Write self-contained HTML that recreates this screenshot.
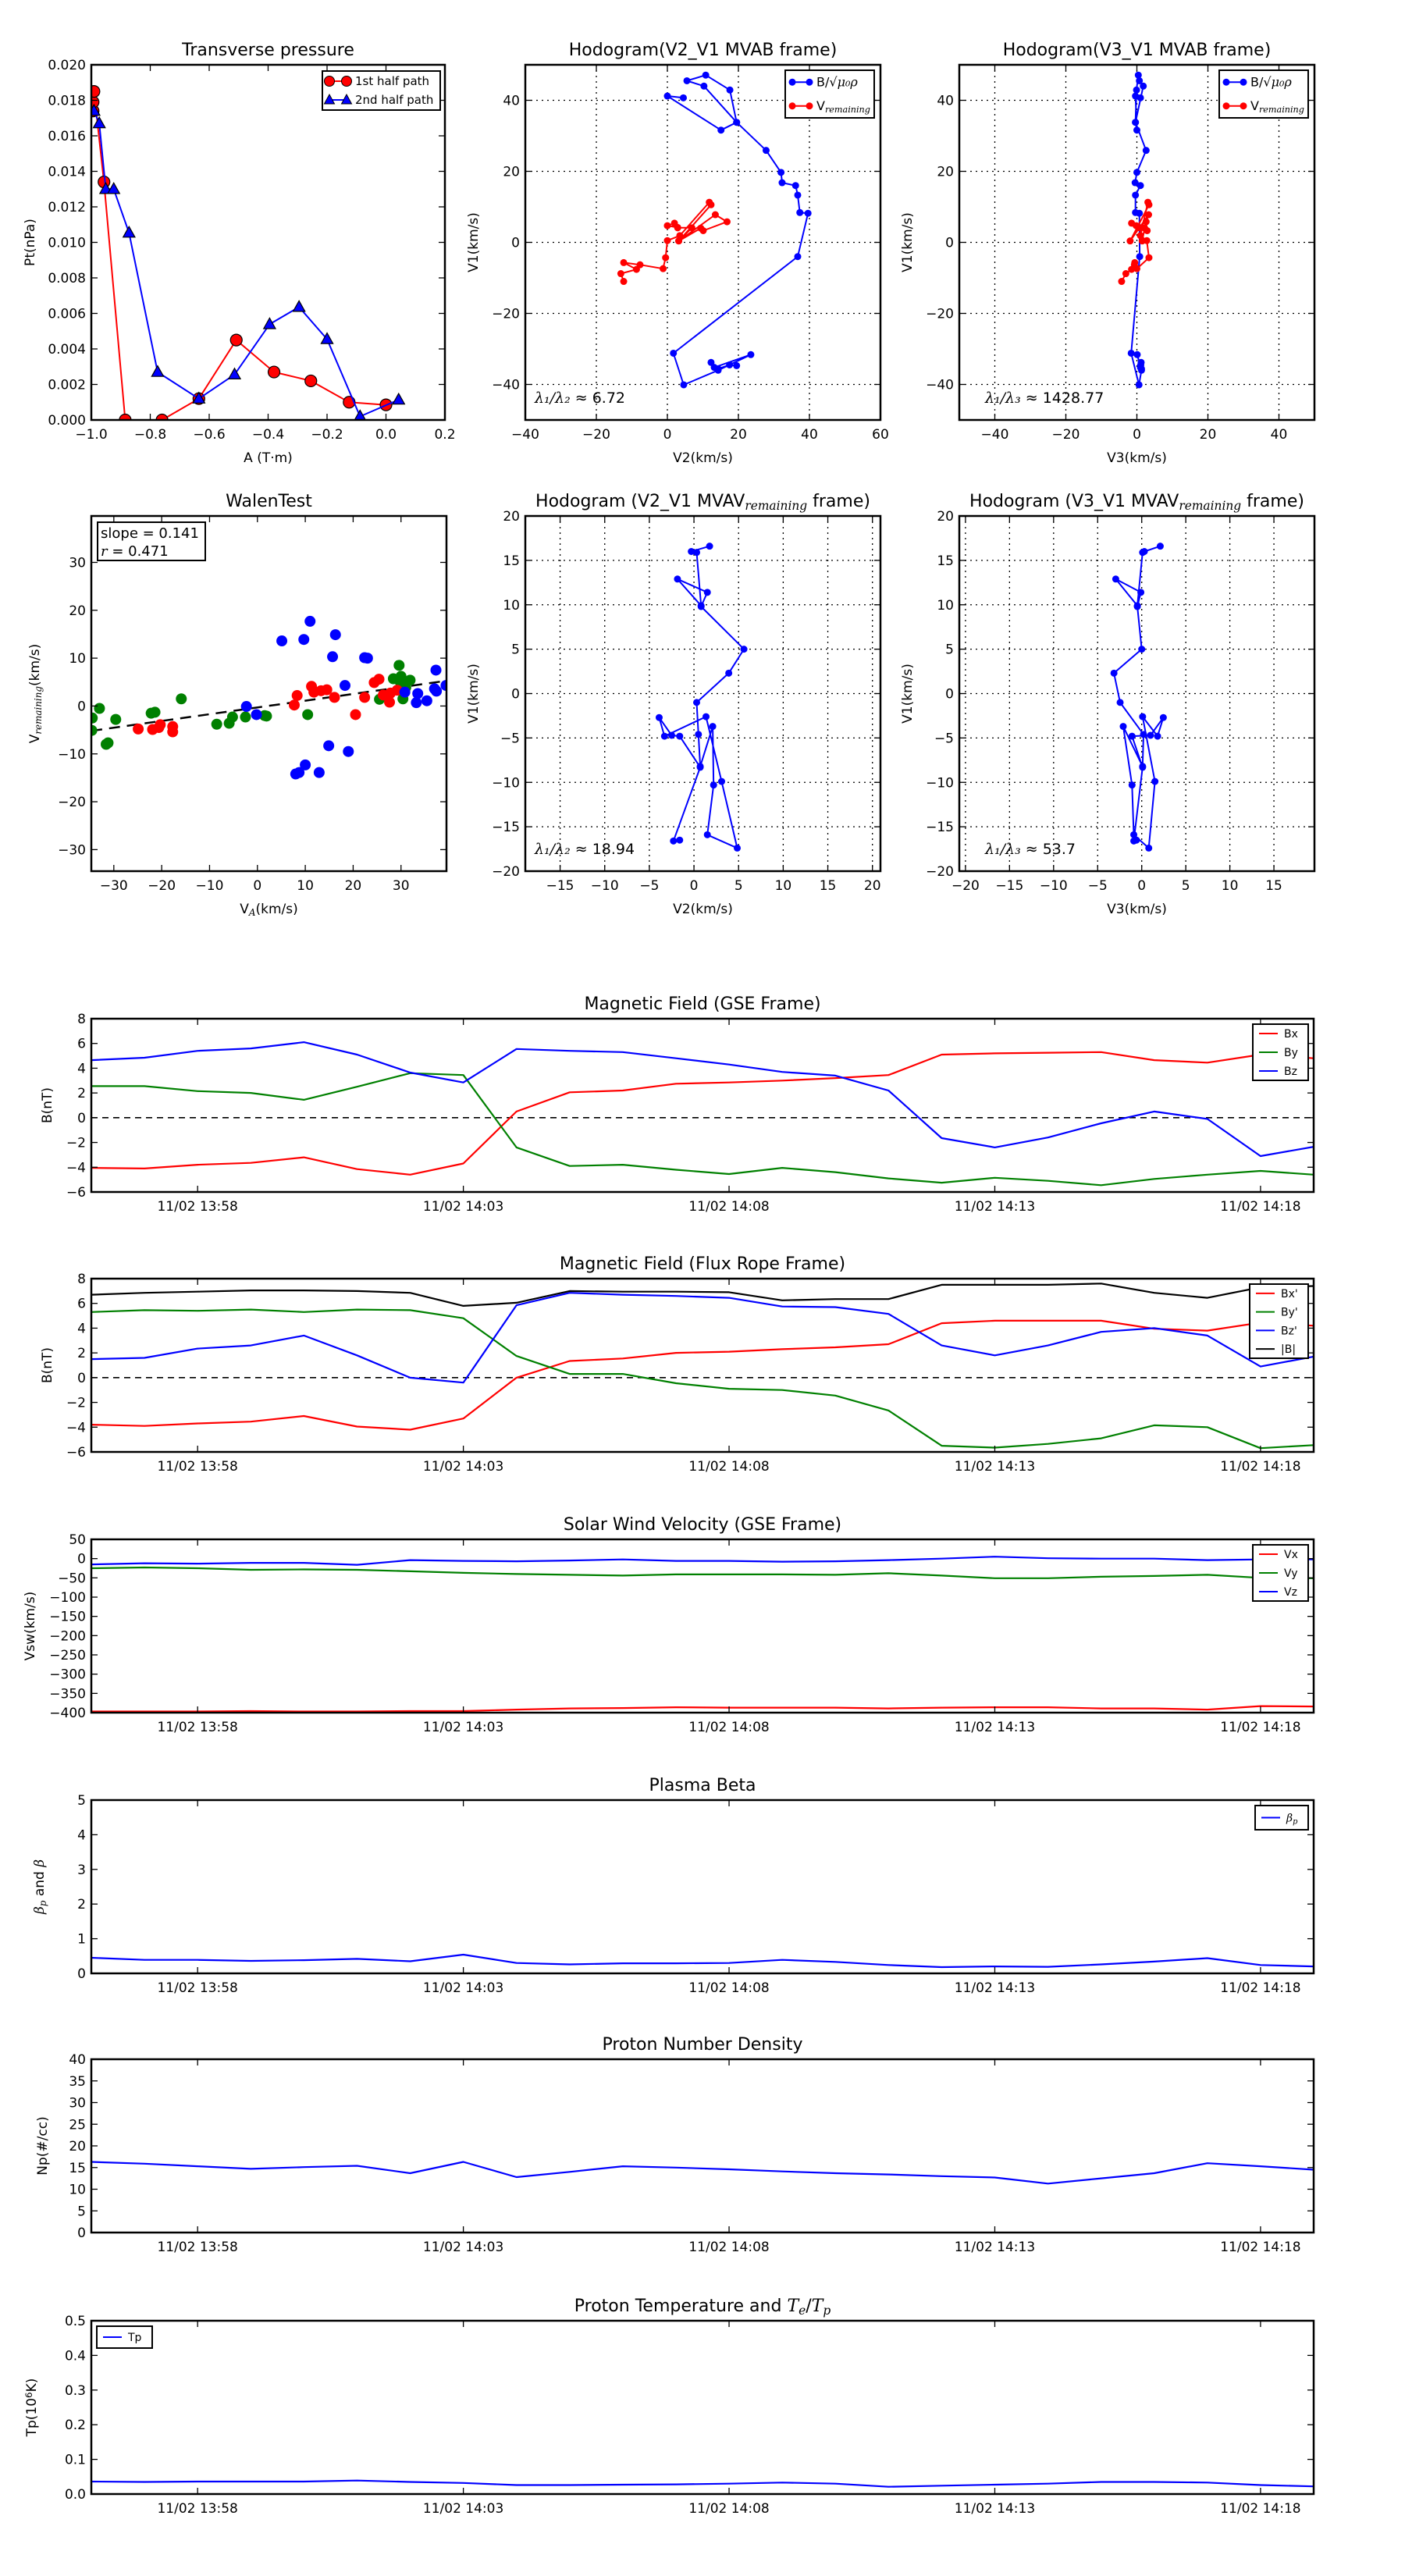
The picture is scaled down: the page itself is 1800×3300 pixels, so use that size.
<!DOCTYPE html>
<html><head><meta charset="utf-8"><title>Flux rope analysis</title>
<style>
html,body{margin:0;padding:0;background:#fff;}
svg{display:block;font-family:"DejaVu Sans","Liberation Sans",sans-serif;}
</style></head>
<body>
<svg id="fig" xmlns="http://www.w3.org/2000/svg" width="1800" height="3300" viewBox="0 0 1800 3300"></svg>
<script>
// ---------- DATA ----------
const tpRedA=[-0.994,-0.994,-0.991,-0.957,-0.885,-0.760,-0.635,-0.508,-0.380,-0.255,-0.125,0.000];
const tpRedP=[0.0174,0.0179,0.0185,0.0134,0.0000,0.0000,0.0012,0.0045,0.0027,0.0022,0.0010,0.00085];
const tpBlueA=[-0.991,-0.973,-0.951,-0.924,-0.872,-0.775,-0.635,-0.514,-0.395,-0.295,-0.200,-0.088,0.043];
const tpBlueP=[0.0174,0.0167,0.0130,0.0130,0.01054,0.0027,0.0012,0.00256,0.00539,0.00636,0.00455,0.0002,0.00114];
const hbV1=[40.7,41.2,31.6,33.8,42.9,47.1,45.5,44.0,33.8,25.9,19.7,16.8,16.0,13.3,8.4,8.2,-4.0,-31.2,-40.1,-36.0,-31.6,-35.2,-33.8,-35.6,-34.5,-34.7];
const hbV2=[4.5,0.0,15.1,19.5,17.6,10.8,5.5,10.3,19.5,27.8,32.0,32.3,36.1,36.7,37.3,39.6,36.7,1.7,4.6,14.3,23.5,13.2,12.3,14.3,17.5,19.5];
const hbV3=[1.0,-0.4,0.0,-0.4,-0.1,0.4,0.7,1.8,-0.4,2.6,0.0,-0.5,1.0,-0.4,-0.4,0.7,0.8,-1.6,0.6,1.3,0.1,1.0,1.2,1.3,1.1,1.0];
const hrV1=[-11.0,-8.8,-7.6,-5.7,-6.3,-7.4,-4.3,0.5,1.9,11.3,10.6,0.4,7.8,5.8,3.3,4.0,0.4,4.1,4.1,5.4,4.7,4.2];
const hrV2=[-12.3,-13.1,-8.7,-12.3,-7.7,-1.2,-0.5,0.0,3.5,11.8,12.3,3.2,13.5,16.8,10.1,9.4,3.2,6.9,2.9,2.0,0.0,2.9];
const hrV3=[-4.3,-3.1,-1.5,-0.6,-0.7,0.0,3.4,2.8,1.0,3.1,3.4,-1.9,3.3,2.6,2.9,2.2,1.5,1.0,0.8,-1.5,-0.2,0.6];
const hvV1=[16.6,16.0,15.9,9.9,12.9,11.4,9.8,5.0,2.3,-1.0,-4.6,-8.2,-3.7,-10.3,-15.9,-17.4,-9.9,-2.6,-4.8,-2.7,-4.7,-4.8,-8.3,-16.6,-16.5];
const hvV2=[1.75,-0.3,0.3,0.8,-1.85,1.5,0.8,5.6,3.9,0.3,0.5,0.7,2.1,2.2,1.5,4.85,3.1,1.35,-3.3,-3.9,-2.5,-1.6,0.7,-2.3,-1.6];
const hvV3=[2.1,0.3,0.1,-0.5,-2.95,-0.1,-0.5,0.0,-3.15,-2.45,0.2,0.1,-2.1,-1.1,-0.9,0.8,1.5,0.1,1.8,2.45,1.0,-1.1,0.1,-0.9,-0.6];
const wGreenX=[-34.5,-34.6,-33,-31.6,-31.2,-29.6,-22.2,-21.4,-15.9,-8.5,-5.9,-5.2,-2.5,1.5,1.9,10.5,25.5,28.4,29.6,30,29.8,30.4,31,31.9];
const wGreenY=[-2.5,-5.1,-0.5,-8.0,-7.7,-2.8,-1.5,-1.3,1.5,-3.8,-3.6,-2.3,-2.3,-2.0,-2.1,-1.8,1.4,5.7,8.5,6.2,5.1,1.5,3.9,5.4];
const wRedX=[-24.9,-21.9,-20.6,-20.3,-17.7,-17.7,7.7,8.3,11.3,11.8,13.3,14.5,16.1,20.5,22.4,24.4,25.4,26.3,27.6,27.8,29.2];
const wRedY=[-4.8,-4.9,-4.5,-3.9,-4.3,-5.4,0.2,2.2,4.1,2.9,3.2,3.4,1.8,-1.8,1.8,4.9,5.6,2.3,0.8,2.7,3.3];
const wBlueX=[-2.3,-0.2,5.1,9.7,11,16.3,15.7,18.3,22.4,23.0,30.8,33.5,33.2,35.4,37.3,37,37.4,39.4,14.9,19,10,8,8.7,12.9];
const wBlueY=[-0.1,-1.8,13.6,13.9,17.7,14.9,10.3,4.3,10.1,10.0,2.9,2.6,0.7,1.1,7.5,3.6,3.1,4.3,-8.3,-9.5,-12.3,-14.2,-13.9,-13.9];
const wSlope=0.141;
const wIntercept=-0.3;
const tMinutes=[0,1,2,3,4,5,6,7,8,9,10,11,12,13,14,15,16,17,18,19,20,21,22,23];
const timeTicks=[2,7,12,17,22];
const timeTickLabels=["11/02 13:58","11/02 14:03","11/02 14:08","11/02 14:13","11/02 14:18"];
const gBx=[-4.05,-4.1,-3.8,-3.65,-3.2,-4.15,-4.6,-3.7,0.5,2.05,2.2,2.75,2.85,3.0,3.2,3.45,5.1,5.2,5.25,5.3,4.65,4.45,5.1,4.8];
const gBy=[2.55,2.55,2.15,2.0,1.45,2.5,3.6,3.45,-2.4,-3.9,-3.8,-4.2,-4.55,-4.05,-4.4,-4.9,-5.25,-4.85,-5.1,-5.45,-4.95,-4.6,-4.3,-4.6];
const gBz=[4.65,4.85,5.4,5.6,6.1,5.1,3.65,2.85,5.55,5.4,5.3,4.8,4.3,3.7,3.4,2.2,-1.65,-2.4,-1.6,-0.45,0.5,-0.1,-3.1,-2.35];
const fBx=[-3.8,-3.9,-3.7,-3.55,-3.1,-3.95,-4.2,-3.3,0.0,1.35,1.55,2.0,2.1,2.3,2.45,2.7,4.4,4.6,4.6,4.6,3.95,3.8,4.45,4.2];
const fBy=[5.3,5.45,5.4,5.5,5.3,5.5,5.45,4.8,1.75,0.3,0.3,-0.45,-0.9,-1.0,-1.45,-2.65,-5.5,-5.65,-5.35,-4.9,-3.85,-4.0,-5.7,-5.45];
const fBz=[1.5,1.6,2.35,2.6,3.4,1.8,0.0,-0.4,5.85,6.85,6.7,6.6,6.45,5.75,5.7,5.15,2.6,1.8,2.6,3.7,4.0,3.4,0.9,1.7];
const fBt=[6.7,6.85,6.95,7.05,7.05,7.0,6.85,5.8,6.05,7.0,6.95,6.95,6.9,6.25,6.35,6.35,7.5,7.5,7.5,7.6,6.85,6.45,7.3,7.4];
const vx=[-397,-397,-397,-396,-397,-397,-396,-396,-392,-389,-388,-386,-387,-387,-387,-389,-387,-386,-386,-389,-389,-392,-383,-384];
const vy=[-25,-23,-25,-29,-28,-29,-33,-37,-40,-42,-44,-41,-41,-41,-42,-38,-44,-51,-51,-47,-45,-42,-50,-51];
const vz=[-15,-12,-13,-11,-11,-16,-4,-6,-7,-5,-2,-6,-6,-8,-7,-4,0,5,1,0,0,-4,-2,-2];
const betaP=[0.45,0.39,0.39,0.36,0.38,0.42,0.35,0.54,0.30,0.26,0.29,0.29,0.30,0.39,0.33,0.24,0.18,0.20,0.19,0.26,0.34,0.44,0.24,0.20];
const npDens=[16.3,15.9,15.3,14.7,15.1,15.4,13.7,16.3,12.8,14.0,15.3,15.0,14.6,14.1,13.7,13.4,13.0,12.7,11.3,12.5,13.7,16.0,15.3,14.5];
const tpTemp=[0.036,0.035,0.036,0.036,0.036,0.039,0.035,0.032,0.026,0.026,0.027,0.028,0.030,0.033,0.030,0.021,0.024,0.027,0.030,0.035,0.035,0.033,0.026,0.022];

// ---------- DRAWING ----------
const NS='http://www.w3.org/2000/svg';
const svg=document.getElementById('fig');
let clipId=0;
function mk(tag,attrs,parent){const e=document.createElementNS(NS,tag);for(const k in attrs)e.setAttribute(k,attrs[k]);(parent||svg).appendChild(e);return e;}
function fmt(v,d){const s=Math.abs(v).toFixed(d);return (v<-1e-12?'\u2212':'')+s;}
function rich(parent,parts){
  parts.forEach(p=>{const t=mk('tspan',{},parent);t.textContent=p[0];
    if(p[1]==='sub'){t.setAttribute('font-size','0.7em');t.setAttribute('font-style','italic');t.setAttribute('font-family','"DejaVu Serif","Liberation Serif",serif');t.setAttribute('baseline-shift','-25%');}
    if(p[1]==='it'){t.setAttribute('font-style','italic');t.setAttribute('font-family','"DejaVu Serif","Liberation Serif",serif');}
    if(p[1]==='sup'){t.setAttribute('font-size','0.7em');t.setAttribute('baseline-shift','40%');}
  });
}
function makeAxes(name,x0,y0,w,h,xr,yr,o){
  const g=mk('g',{});
  
  
  const sx=v=>x0+(v-xr[0])/(xr[1]-xr[0])*w;
  const sy=v=>y0+h-(v-yr[0])/(yr[1]-yr[0])*h;
  const cid='c'+(clipId++);
  const cp=mk('clipPath',{id:cid},g);mk('rect',{x:x0,y:y0,width:w,height:h},cp);
  const data=mk('g',{'clip-path':'url(#'+cid+')'},g);
  
  
  if(o.grid){
    o.xticks.forEach(t=>{const l=mk('line',{x1:sx(t),x2:sx(t),y1:y0,y2:y0+h,stroke:'#000','stroke-width':1.3,'stroke-dasharray':'2,5'},data);
      });
    o.yticks.forEach(t=>{const l=mk('line',{x1:x0,x2:x0+w,y1:sy(t),y2:sy(t),stroke:'#000','stroke-width':1.3,'stroke-dasharray':'2,5'},data);
      });
  }
  const tk=mk('g',{stroke:'#000','stroke-width':1.3},g);
  
  o.xticks.forEach(t=>{mk('line',{x1:sx(t),x2:sx(t),y1:y0+h,y2:y0+h-8},tk);mk('line',{x1:sx(t),x2:sx(t),y1:y0,y2:y0+8},tk);});
  o.yticks.forEach(t=>{mk('line',{x1:x0,x2:x0+8,y1:sy(t),y2:sy(t)},tk);mk('line',{x1:x0+w,x2:x0+w-8,y1:sy(t),y2:sy(t)},tk);});
  o.xticks.forEach((t,i)=>{const s=mk('text',{x:sx(t),y:y0+h+24,'font-size':o.fs||17,'text-anchor':'middle'},g);
    
    
    s.textContent=o.xlab?o.xlab[i]:fmt(t,o.xd||0);});
  o.yticks.forEach(t=>{const s=mk('text',{x:x0-7,y:sy(t)+6,'font-size':o.fs||17,'text-anchor':'end'},g);
    
    
    s.textContent=fmt(t,o.yd||0);});
  if(o.title){const s=mk('text',{x:x0+w/2,y:y0-12,'font-size':22,'text-anchor':'middle'},g);
    
    
    rich(s,o.title);}
  if(o.xlabel){const s=mk('text',{x:x0+w/2,y:y0+h+54,'font-size':17,'text-anchor':'middle'},g);
    
    
    rich(s,o.xlabel);}
  if(o.ylabel){const s=mk('text',{x:0,y:0,'font-size':17,'text-anchor':'middle',transform:'translate('+o.ylx+','+(y0+h/2)+') rotate(-90)'},g);
    
    
    rich(s,o.ylabel);}
  return {g,data,sx,sy,frame:()=>{const f=mk('rect',{x:x0,y:y0,width:w,height:h,fill:'none',stroke:'#000','stroke-width':2.5},g);
    }};
}
function line(ax,xs,ys,color,name,lw){
  const pts=xs.map((x,i)=>ax.sx(x).toFixed(1)+','+ax.sy(ys[i]).toFixed(1)).join(' ');
  const p=mk('polyline',{points:pts,fill:'none',stroke:color,'stroke-width':lw||2,'stroke-linejoin':'round'},ax.data);
  
  
}
function dots(ax,xs,ys,color,name,r,edge){
  xs.forEach((x,i)=>{const c=mk('circle',{cx:ax.sx(x),cy:ax.sy(ys[i]),r:r,fill:color},ax.data);
    if(edge){c.setAttribute('stroke','#000');c.setAttribute('stroke-width',1.2);}
    
    });
}
function tris(ax,xs,ys,color,name,s){
  xs.forEach((x,i)=>{const cx=ax.sx(x),cy=ax.sy(ys[i]);
    const p=mk('polygon',{points:cx+','+(cy-s)+' '+(cx-s*0.95)+','+(cy+s*0.7)+' '+(cx+s*0.95)+','+(cy+s*0.7),fill:color,stroke:'#000','stroke-width':1.2},ax.data);
    
    });
}
// entries: [parts, color]
function legend(name,x,y,w,h,entries,marker,fs){
  const g=mk('g',{});
  
  
  mk('rect',{x:x,y:y,width:w,height:h,fill:'#fff',stroke:'#000','stroke-width':2},g);
  const step=h/entries.length;
  entries.forEach((e,i)=>{const cy=y+step*(i+0.5);
    const eg=mk('g',{},g);
    
    
    mk('line',{x1:x+8,x2:x+32,y1:cy,y2:cy,stroke:e[1],'stroke-width':2},eg);
    if(marker==='circle'){mk('circle',{cx:x+9,cy:cy,r:4.5,fill:e[1]},eg);mk('circle',{cx:x+31,cy:cy,r:4.5,fill:e[1]},eg);}
    const t=mk('text',{x:x+40,y:cy+5,'font-size':fs||15},eg);rich(t,e[0]);});
}

// ---- Transverse pressure ----
(function(){
  const ax=makeAxes('transverse-pressure-chart',117,83,453,455,[-1.0,0.2],[0,0.020],{
    xticks:[-1.0,-0.8,-0.6,-0.4,-0.2,0.0,0.2],yticks:[0,0.002,0.004,0.006,0.008,0.010,0.012,0.014,0.016,0.018,0.020],
    xd:1,yd:3,title:[['Transverse pressure']],xlabel:[['A (T\u00b7m)']],ylabel:[['Pt(nPa)']],ylx:44});
  line(ax,tpRedA,tpRedP,'#ff0000','first-half-path-line');
  dots(ax,tpRedA,tpRedP,'#ff0000','first-half-point',7.5,true);
  line(ax,tpBlueA,tpBlueP,'#0000ff','second-half-path-line');
  tris(ax,tpBlueA,tpBlueP,'#0000ff','second-half-point',8);
  ax.frame();
  const lg=mk('g',{});
  
  
  mk('rect',{x:413,y:91,width:151,height:50,fill:'#fff',stroke:'#000','stroke-width':2},lg);
  const e1=mk('g',{},lg);
  
  
  mk('line',{x1:421,x2:445,y1:104,y2:104,stroke:'#ff0000','stroke-width':2},e1);
  mk('circle',{cx:422,cy:104,r:6.5,fill:'#ff0000',stroke:'#000'},e1);mk('circle',{cx:444,cy:104,r:6.5,fill:'#ff0000',stroke:'#000'},e1);
  const t1=mk('text',{x:455,y:109,'font-size':15},e1);t1.textContent='1st half path';
  const e2=mk('g',{},lg);
  
  
  mk('line',{x1:421,x2:445,y1:128,y2:128,stroke:'#0000ff','stroke-width':2},e2);
  [422,444].forEach(px=>mk('polygon',{points:px+',121 '+(px-6.5)+',133 '+(px+6.5)+',133',fill:'#0000ff',stroke:'#000'},e2));
  const t2=mk('text',{x:455,y:133,'font-size':15},e2);t2.textContent='2nd half path';
})();

const legB=[[['B/\u221a'],['\u03bc\u2080\u03c1','it']],'#0000ff'];
const legV=[[['V'],['remaining','sub']],'#ff0000'];
(function(){
  const ax=makeAxes('hodogram-v2-v1-mvab',673,83,455,455,[-40,60],[-50,50],{
    xticks:[-40,-20,0,20,40,60],yticks:[-40,-20,0,20,40],grid:true,
    title:[['Hodogram(V2_V1 MVAB frame)']],xlabel:[['V2(km/s)']],ylabel:[['V1(km/s)']],ylx:612});
  line(ax,hbV2,hbV1,'#0000ff','b-alfven-path');
  dots(ax,hbV2,hbV1,'#0000ff','b-alfven-point',4.5);
  line(ax,hrV2,hrV1,'#ff0000','v-remaining-path');
  dots(ax,hrV2,hrV1,'#ff0000','v-remaining-point',4.5);
  const t=mk('text',{x:685,y:516,'font-size':19},ax.g);
  
  
  rich(t,[['\u03bb\u2081/\u03bb\u2082','it'],[' \u2248 6.72']]);
  ax.frame();
  legend('hodogram-v2-legend',1006,90,114,61,[legB,legV],'circle',16);
})();
(function(){
  const ax=makeAxes('hodogram-v3-v1-mvab',1229,83,455,455,[-50,50],[-50,50],{
    xticks:[-40,-20,0,20,40],yticks:[-40,-20,0,20,40],grid:true,
    title:[['Hodogram(V3_V1 MVAB frame)']],xlabel:[['V3(km/s)']],ylabel:[['V1(km/s)']],ylx:1168});
  line(ax,hbV3,hbV1,'#0000ff','b-alfven-path');
  dots(ax,hbV3,hbV1,'#0000ff','b-alfven-point',4.5);
  line(ax,hrV3,hrV1,'#ff0000','v-remaining-path');
  dots(ax,hrV3,hrV1,'#ff0000','v-remaining-point',4.5);
  const t=mk('text',{x:1262,y:516,'font-size':19},ax.g);
  
  
  rich(t,[['\u03bb\u2081/\u03bb\u2083','it'],[' \u2248 1428.77']]);
  ax.frame();
  legend('hodogram-v3-legend',1562,90,114,61,[legB,legV],'circle',16);
})();
(function(){
  const ax=makeAxes('walen-test-chart',117,661,455,455,[-34.7,39.5],[-34.5,39.7],{
    xticks:[-30,-20,-10,0,10,20,30],yticks:[-30,-20,-10,0,10,20,30],
    title:[['WalenTest']],xlabel:[['V'],['A','sub'],['(km/s)']],ylabel:[['V'],['remaining','sub'],['(km/s)']],ylx:50});
  const fx=[-34.7,39.5];
  const fl=mk('line',{x1:ax.sx(fx[0]),y1:ax.sy(wSlope*fx[0]+wIntercept),x2:ax.sx(fx[1]),y2:ax.sy(wSlope*fx[1]+wIntercept),stroke:'#000','stroke-width':2.5,'stroke-dasharray':'14,9'},ax.data);
  
  
  dots(ax,wGreenX,wGreenY,'#008000','walen-point-y',7);
  dots(ax,wRedX,wRedY,'#ff0000','walen-point-x',7);
  dots(ax,wBlueX,wBlueY,'#0000ff','walen-point-z',7);
  ax.frame();
  const b=mk('g',{});
  
  
  mk('rect',{x:125,y:669,width:138,height:49,fill:'#fff',stroke:'#000','stroke-width':2},b);
  const t1=mk('text',{x:129,y:689,'font-size':18},b);t1.textContent='slope = 0.141';
  const t2=mk('text',{x:129,y:712,'font-size':18},b);rich(t2,[['r','it'],[' = 0.471']]);
})();
(function(){
  const ax=makeAxes('hodogram-v2-v1-mvav',673,661,455,455,[-18.9,20.9],[-20,20],{
    xticks:[-15,-10,-5,0,5,10,15,20],yticks:[-20,-15,-10,-5,0,5,10,15,20],grid:true,
    title:[['Hodogram (V2_V1 MVAV'],['remaining','sub'],[' frame)']],xlabel:[['V2(km/s)']],ylabel:[['V1(km/s)']],ylx:612});
  line(ax,hvV2,hvV1,'#0000ff','b-path');
  dots(ax,hvV2,hvV1,'#0000ff','b-point',4.5);
  const t=mk('text',{x:685,y:1094,'font-size':19},ax.g);
  
  
  rich(t,[['\u03bb\u2081/\u03bb\u2082','it'],[' \u2248 18.94']]);
  ax.frame();
})();
(function(){
  const ax=makeAxes('hodogram-v3-v1-mvav',1229,661,455,455,[-20.7,19.6],[-20,20],{
    xticks:[-20,-15,-10,-5,0,5,10,15],yticks:[-20,-15,-10,-5,0,5,10,15,20],grid:true,
    title:[['Hodogram (V3_V1 MVAV'],['remaining','sub'],[' frame)']],xlabel:[['V3(km/s)']],ylabel:[['V1(km/s)']],ylx:1168});
  line(ax,hvV3,hvV1,'#0000ff','b-path');
  dots(ax,hvV3,hvV1,'#0000ff','b-point',4.5);
  const t=mk('text',{x:1262,y:1094,'font-size':19},ax.g);
  
  
  rich(t,[['\u03bb\u2081/\u03bb\u2083','it'],[' \u2248 53.7']]);
  ax.frame();
})();

// ---- Time series ----
function range(a,b,s){const r=[];for(let v=a;v<=b+1e-9;v+=s)r.push(+v.toFixed(6));return r;}
function tsPanel(name,top,yr,ystep,yd,title,ylabel,ylx,series,zero){
  const ax=makeAxes(name,117,top,1566,222,[0,23],yr,{xticks:timeTicks,xlab:timeTickLabels,yticks:range(yr[0],yr[1],ystep),yd:yd,
    title:title,ylabel:ylabel,ylx:ylx,fs:17});
  if(zero){const z=mk('line',{x1:117,x2:1683,y1:ax.sy(0),y2:ax.sy(0),stroke:'#000','stroke-width':1.6,'stroke-dasharray':'8,6'},ax.data);
    
    }
  series.forEach(s=>line(ax,tMinutes,s[0],s[1],s[2],2.2));
  ax.frame();
}
tsPanel('magnetic-field-gse-chart',1305,[-6,8],2,0,[['Magnetic Field (GSE Frame)']],[['B(nT)']],66,
  [[gBx,'#ff0000','bx-line'],[gBy,'#008000','by-line'],[gBz,'#0000ff','bz-line']],true);
legend('gse-legend',1605,1312,71,72,[[[['Bx']],'#ff0000'],[[['By']],'#008000'],[[['Bz']],'#0000ff']],null,14);
tsPanel('magnetic-field-flux-rope-chart',1638,[-6,8],2,0,[['Magnetic Field (Flux Rope Frame)']],[['B(nT)']],66,
  [[fBx,'#ff0000','bx-prime-line'],[fBy,'#008000','by-prime-line'],[fBz,'#0000ff','bz-prime-line'],[fBt,'#000000','b-magnitude-line']],true);
legend('flux-rope-legend',1601,1645,75,95,[[[["Bx'"]],'#ff0000'],[[["By'"]],'#008000'],[[["Bz'"]],'#0000ff'],[[['|B|']],'#000000']],null,14);
tsPanel('solar-wind-velocity-chart',1972,[-400,50],50,0,[['Solar Wind Velocity (GSE Frame)']],[['Vsw(km/s)']],44,
  [[vx,'#ff0000','vx-line'],[vy,'#008000','vy-line'],[vz,'#0000ff','vz-line']],false);
legend('velocity-legend',1605,1979,71,72,[[[['Vx']],'#ff0000'],[[['Vy']],'#008000'],[[['Vz']],'#0000ff']],null,14);
tsPanel('plasma-beta-chart',2306,[0,5],1,0,[['Plasma Beta']],[['\u03b2','it'],['p','sub'],[' and '],['\u03b2','it']],56,
  [[betaP,'#0000ff','beta-p-line']],false);
legend('beta-legend',1608,2313,68,31,[[[['\u03b2','it'],['p','sub']],'#0000ff']],null,14);
tsPanel('proton-density-chart',2638,[0,40],5,0,[['Proton Number Density']],[['Np(#/cc)']],60,
  [[npDens,'#0000ff','density-line']],false);
tsPanel('proton-temperature-chart',2973,[0,0.5],0.1,1,[['Proton Temperature and '],['T','it'],['e','sub'],['/'],['T','it'],['p','sub']],[['Tp(10'],['6','sup'],['K)']],46,
  [[tpTemp,'#0000ff','tp-line']],false);
legend('temperature-legend',124,2980,71,28,[[[['Tp']],'#0000ff']],null,14);
</script>
</body></html>
